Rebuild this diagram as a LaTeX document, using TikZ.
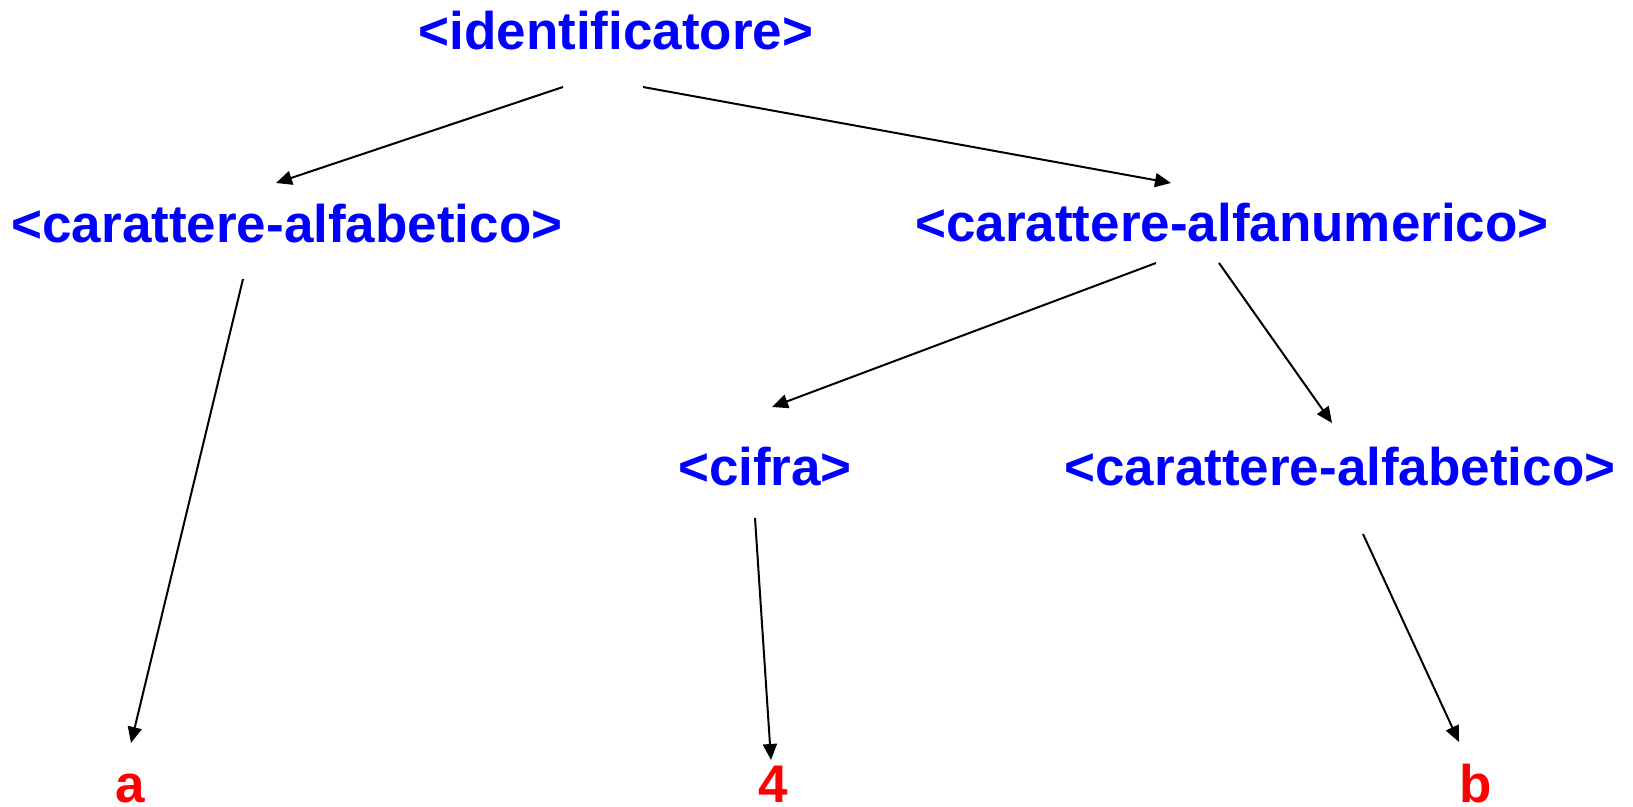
\documentclass[tikz,border=0pt]{standalone}
\usepackage{fontspec}
\setmainfont{Liberation Sans}
\usetikzlibrary{arrows.meta}
\definecolor{ntblue}{RGB}{0,0,255}
\definecolor{ntred}{RGB}{255,0,0}
\begin{document}
\begin{tikzpicture}[x=1pt,y=-1pt,
  nt/.style={anchor=base,inner sep=0pt,text=ntblue,font=\fontsize{53}{60}\selectfont\bfseries},
  term/.style={anchor=base,inner sep=0pt,text=ntred,font=\fontsize{53}{60}\selectfont\bfseries},
  arr/.style={draw=black,line width=2pt,-{Triangle[length=16pt,width=14pt]}}]
\useasboundingbox (0,0) rectangle (1633,806);
\node[nt] (id) at (616,49) {<identificatore>};
\node[nt] (cal) at (287,242) {<carattere-alfabetico>};
\node[nt] (can) at (1232,241) {<carattere-alfanumerico>};
\node[nt] (cif) at (765,485) {<cifra>};
\node[nt] (car) at (1340,485) {<carattere-alfabetico>};
\node[term] (ta) at (130,802) {a};
\node[term] (t4) at (773,802) {4};
\node[term] (tb) at (1476,802) {b};
\draw[arr] ([shift={(-53,38)}]id.base) -- ([shift={(-11,-59)}]cal.base);
\draw[arr] ([shift={(27,38)}]id.base) -- ([shift={(-61,-58)}]can.base);
\draw[arr] ([shift={(-44,37)}]cal.base) -- ([shift={(1,-59)}]ta.base);
\draw[arr] ([shift={(-76,22)}]can.base) -- ([shift={(7,-78)}]cif.base);
\draw[arr] ([shift={(-13,22)}]can.base) -- ([shift={(-8,-62)}]car.base);
\draw[arr] ([shift={(-10,33)}]cif.base) -- ([shift={(-2,-42)}]t4.base);
\draw[arr] ([shift={(23,49)}]car.base) -- ([shift={(-17,-60)}]tb.base);
\end{tikzpicture}
\end{document}
